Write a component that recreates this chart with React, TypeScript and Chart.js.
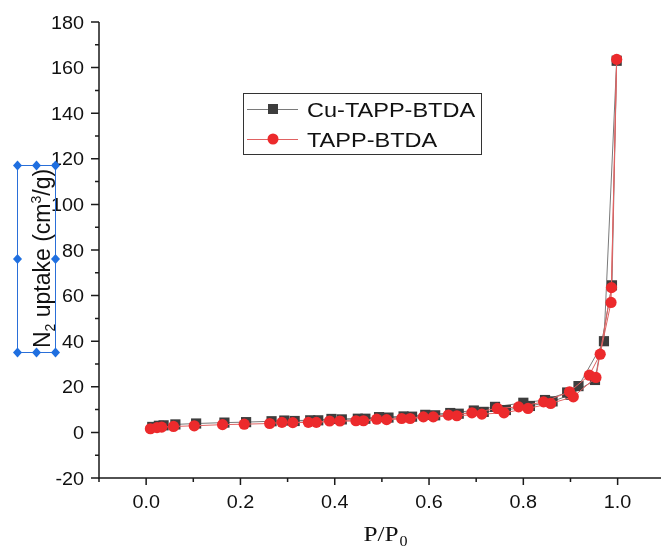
import React, { useEffect, useRef } from "react";
import { Chart, registerables } from "chart.js";

Chart.register(...registerables);

// ---- data ----
const SERIES_NAMES = ["Cu-TAPP-BTDA", "TAPP-BTDA"];

const CU_P = [0.013, 0.027, 0.037, 0.062, 0.106, 0.166, 0.212, 0.266, 0.293, 0.348, 0.393, 0.449, 0.494, 0.546, 0.592, 0.645, 0.695, 0.74, 0.8, 0.846, 0.893, 0.917, 0.971, 0.998,
  0.988, 0.952, 0.9, 0.862, 0.814, 0.763, 0.716, 0.663, 0.613, 0.564, 0.514, 0.465, 0.415, 0.365, 0.315];
const CU_V = [2.4, 2.9, 3.1, 3.5, 3.9, 4.3, 4.5, 4.9, 5.2, 5.3, 5.9, 6.0, 6.7, 7.0, 7.7, 8.5, 9.6, 11.2, 13.0, 14.2, 17.5, 20.3, 40.0, 163.0,
  64.5, 23.0, 16.5, 13.6, 11.6, 9.8, 9.0, 8.2, 7.5, 6.9, 6.5, 6.0, 5.7, 5.3, 5.0];

const TAPP_P = [0.009, 0.023, 0.033, 0.058, 0.102, 0.162, 0.208, 0.262, 0.288, 0.344, 0.389, 0.445, 0.489, 0.542, 0.588, 0.641, 0.691, 0.745, 0.79, 0.843, 0.898, 0.94, 0.963, 0.986, 0.998,
  0.987, 0.954, 0.906, 0.858, 0.81, 0.759, 0.712, 0.659, 0.609, 0.56, 0.51, 0.461, 0.411, 0.361, 0.311];
const TAPP_V = [1.6, 2.1, 2.3, 2.6, 2.9, 3.4, 3.6, 3.9, 4.4, 4.4, 5.0, 5.1, 5.8, 6.1, 6.8, 7.6, 8.6, 10.5, 11.2, 13.4, 17.8, 25.1, 34.3, 57.0, 163.6,
  63.5, 24.1, 15.6, 12.7, 10.5, 8.6, 8.0, 7.3, 6.8, 6.1, 5.6, 5.1, 5.0, 4.4, 4.3];

const X_TICKS = [0, 0.2, 0.4, 0.6, 0.8, 1.0];
const X_TICK_LABELS = ["0.0", "0.2", "0.4", "0.6", "0.8", "1.0"];
const X_MINOR = [-0.1, 0.1, 0.3, 0.5, 0.7, 0.9];
const Y_TICKS = [-20, 0, 20, 40, 60, 80, 100, 120, 140, 160, 180];
const Y_TICK_LABELS = ["-20", "0", "20", "40", "60", "80", "100", "120", "140", "160", "180"];
const Y_MINOR = [-10, 10, 30, 50, 70, 90, 110, 130, 150, 170];
const X_RANGE = [-0.1, 1.092];
const Y_RANGE = [-20, 180];

const X_TITLE = "P/P";
const X_TITLE_SUB = "0";
const Y_TITLE_PARTS: [string, "n" | "sub" | "sup"][] = [
  ["N", "n"], ["2", "sub"], [" uptake (cm", "n"], ["3", "sup"], ["/g)", "n"],
];

const CU_COLOR = "#3d3d3d";
const CU_LINE = "#7a7a7a";
const TAPP_COLOR = "#ec2a2c";
const TAPP_LINE = "#e06262";
const SANS = "'Liberation Sans', Arial, sans-serif";
const SERIF = "'Liberation Serif', 'Times New Roman', serif";
const STRETCH = 1.1;

const pts = (xs: number[], ys: number[]) => xs.map((x, i) => ({ x, y: ys[i] }));

function stretchedText(ctx: any, text: string, x: number, y: number, align: string, font: string, sx: number) {
  ctx.save();
  ctx.translate(x, y);
  ctx.scale(sx, 1);
  ctx.font = font;
  ctx.textAlign = align;
  ctx.textBaseline = "alphabetic";
  ctx.fillText(text, 0, 0);
  ctx.restore();
}

const decorPlugin = {
  id: "decor",
  afterDraw(chart: any) {
    const { ctx, chartArea, scales } = chart;
    const xs = scales.x;
    const ys = scales.y;
    ctx.save();
    const left = chartArea.left;
    const bottom = chartArea.bottom;
    // axis lines
    ctx.strokeStyle = "#1a1a1a";
    ctx.lineWidth = 1.5;
    ctx.beginPath();
    ctx.moveTo(left, ys.getPixelForValue(Y_RANGE[1]));
    ctx.lineTo(left, bottom);
    ctx.lineTo(chartArea.right, bottom);
    ctx.stroke();
    // ticks
    ctx.beginPath();
    Y_TICKS.forEach((v) => { const p = ys.getPixelForValue(v); ctx.moveTo(left - 8, p); ctx.lineTo(left, p); });
    Y_MINOR.forEach((v) => { const p = ys.getPixelForValue(v); ctx.moveTo(left - 4, p); ctx.lineTo(left, p); });
    X_TICKS.forEach((v) => { const p = xs.getPixelForValue(v); ctx.moveTo(p, bottom); ctx.lineTo(p, bottom + 7); });
    X_MINOR.forEach((v) => { const p = xs.getPixelForValue(v); ctx.moveTo(p, bottom); ctx.lineTo(p, bottom + 4); });
    ctx.stroke();

    // tick labels
    ctx.fillStyle = "#111";
    const tf = `18px ${SANS}`;
    Y_TICKS.forEach((v, i) => {
      stretchedText(ctx, Y_TICK_LABELS[i], left - 15, ys.getPixelForValue(v) + 6.5, "right", tf, STRETCH);
    });
    X_TICKS.forEach((v, i) => {
      stretchedText(ctx, X_TICK_LABELS[i], xs.getPixelForValue(v), bottom + 30, "center", tf, STRETCH);
    });

    // x title
    const xf = 22;
    const sx2 = 1.15;
    ctx.font = `${xf}px ${SERIF}`;
    const w1 = ctx.measureText(X_TITLE).width * sx2;
    ctx.font = `${Math.round(xf * 0.65)}px ${SERIF}`;
    const w2 = ctx.measureText(X_TITLE_SUB).width * sx2;
    const cx = (chartArea.left + chartArea.right) / 2 + 5;
    const bx = cx - (w1 + w2) / 2;
    stretchedText(ctx, X_TITLE, bx, 541, "left", `${xf}px ${SERIF}`, sx2);
    stretchedText(ctx, X_TITLE_SUB, bx + w1 + 1, 546, "left", `${Math.round(xf * 0.65)}px ${SERIF}`, sx2);

    // y title (rotated) with selection box
    const boxL = 17, boxR = 55, boxT = 165, boxB = 352;
    const midY = (boxT + boxB) / 2;
    const midX = (boxL + boxR) / 2;
    const yf = 23;
    const sf = Math.round(yf * 0.62);
    ctx.save();
    ctx.translate(50, midY);
    ctx.rotate(-Math.PI / 2);
    ctx.textAlign = "left";
    ctx.textBaseline = "alphabetic";
    let total = 0;
    Y_TITLE_PARTS.forEach(([t, k]) => {
      ctx.font = `${k === "n" ? yf : sf}px ${SANS}`;
      total += ctx.measureText(t).width;
    });
    let px = -total / 2;
    ctx.fillStyle = "#111";
    Y_TITLE_PARTS.forEach(([t, k]) => {
      ctx.font = `${k === "n" ? yf : sf}px ${SANS}`;
      const dy = k === "sub" ? 5 : k === "sup" ? -9 : 0;
      ctx.fillText(t, px, dy);
      px += ctx.measureText(t).width;
    });
    ctx.restore();

    ctx.strokeStyle = "#2a6fd8";
    ctx.lineWidth = 1;
    ctx.strokeRect(boxL + 0.5, boxT + 0.5, boxR - boxL, boxB - boxT);
    ctx.fillStyle = "#1f6fe0";
    const handles = [
      [boxL, boxT], [midX, boxT], [boxR, boxT],
      [boxL, midY], [boxR, midY],
      [boxL, boxB], [midX, boxB], [boxR, boxB],
    ];
    handles.forEach(([hx, hy]) => {
      ctx.beginPath();
      ctx.moveTo(hx + 0.5, hy - 4.5);
      ctx.lineTo(hx + 5, hy + 0.5);
      ctx.lineTo(hx + 0.5, hy + 5.5);
      ctx.lineTo(hx - 4, hy + 0.5);
      ctx.closePath();
      ctx.fill();
    });

    // legend
    const lgL = 243, lgT = 93, lgW = 238, lgH = 61;
    ctx.strokeStyle = "#333";
    ctx.lineWidth = 1;
    ctx.strokeRect(lgL + 0.5, lgT + 0.5, lgW, lgH);
    const rows = [109, 139];
    const lineCols = [CU_LINE, TAPP_LINE];
    rows.forEach((ry, i) => {
      ctx.strokeStyle = lineCols[i];
      ctx.lineWidth = 1;
      ctx.beginPath();
      ctx.moveTo(247, ry + 0.5);
      ctx.lineTo(298, ry + 0.5);
      ctx.stroke();
      if (i === 0) {
        ctx.fillStyle = CU_COLOR;
        ctx.fillRect(268, ry - 5, 10, 10);
      } else {
        ctx.fillStyle = TAPP_COLOR;
        ctx.beginPath();
        ctx.arc(273, ry, 5.5, 0, Math.PI * 2);
        ctx.fill();
      }
      ctx.fillStyle = "#111";
      stretchedText(ctx, SERIES_NAMES[i], 307, ry + 8, "left", `21px ${SANS}`, 1.12);
    });
    ctx.restore();
  },
};

export default function App() {
  const ref = useRef<HTMLCanvasElement | null>(null);
  useEffect(() => {
    if (!ref.current) return;
    const chart = new Chart(ref.current, {
      type: "scatter",
      data: {
        datasets: [
          {
            label: SERIES_NAMES[0],
            data: pts(CU_P, CU_V),
            showLine: true,
            borderColor: CU_LINE,
            borderWidth: 1,
            backgroundColor: CU_COLOR,
            pointBackgroundColor: CU_COLOR,
            pointBorderWidth: 0,
            pointStyle: "rect",
            pointRadius: 7.2,
            order: 1,
          },
          {
            label: SERIES_NAMES[1],
            data: pts(TAPP_P, TAPP_V),
            showLine: true,
            borderColor: TAPP_LINE,
            borderWidth: 1,
            backgroundColor: TAPP_COLOR,
            pointBackgroundColor: TAPP_COLOR,
            pointBorderWidth: 0,
            pointStyle: "circle",
            pointRadius: 5.6,
            order: 0,
          },
        ],
      },
      options: {
        responsive: false,
        animation: false,
        layout: { autoPadding: false, padding: { left: 0, right: 0, top: 22, bottom: 0 } },
        plugins: { legend: { display: false }, tooltip: { enabled: false } },
        scales: {
          x: {
            type: "linear",
            min: X_RANGE[0],
            max: X_RANGE[1],
            grid: { display: false, drawTicks: false },
            border: { display: false },
            ticks: { display: false },
            afterBuildTicks: (s: any) => { s.ticks = X_TICKS.map((v) => ({ value: v })); },
            afterFit: (s: any) => {
              s.height = 547 - 478;
              s.paddingLeft = 0; s.paddingRight = 0; s.paddingTop = 0; s.paddingBottom = 0;
            },
          },
          y: {
            type: "linear",
            min: Y_RANGE[0],
            max: Y_RANGE[1],
            grid: { display: false, drawTicks: false },
            border: { display: false },
            ticks: { display: false },
            afterBuildTicks: (s: any) => { s.ticks = Y_TICKS.map((v) => ({ value: v })); },
            afterFit: (s: any) => {
              s.width = 99;
              s.paddingLeft = 0; s.paddingRight = 0; s.paddingTop = 0; s.paddingBottom = 0;
            },
          },
        },
      },
      plugins: [decorPlugin],
    });
    return () => chart.destroy();
  }, []);
  return (
    <div style={{ position: "absolute", left: 0, top: 0, width: 661, height: 547, background: "#fff" }}>
      <canvas ref={ref} width={661} height={547} />
    </div>
  );
}
